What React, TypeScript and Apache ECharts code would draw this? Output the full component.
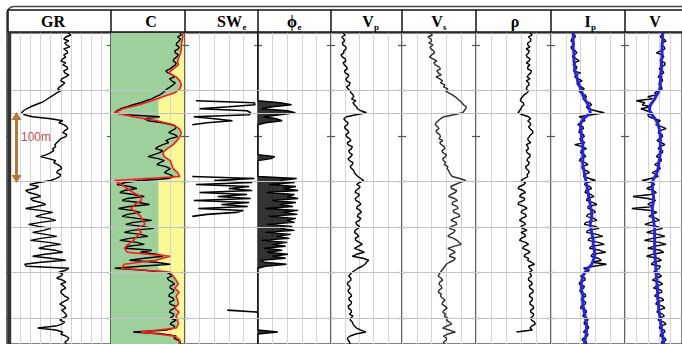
import React, { useEffect, useRef } from "react";
import * as echarts from "echarts";

// depth samples (m): coarse (6 m) and fine (3 m) sampling of the same window
const DEPTH = [1500,1506,1512,1518,1524,1530,1536,1542,1548,1554,1560,1566,1572,1578,1584,1590,1596,1602,1608,1614,1620,1626,1632,1638,1644,1650,1656,1662,1668,1674,1680,1686,1692,1698,1704,1710,1716,1722,1728,1734,1740,1746,1752,1758,1764,1770,1776,1782,1788,1794,1800,1806,1812,1818,1824,1830,1836,1842,1848,1854,1860,1866,1872,1878,1884,1890,1896,1902,1908,1914,1920,1926,1932,1938,1944,1950,1956,1962,1968];
const DEPTH_FINE = [
  1500,1503,1506,1509,1512,1515,1518,1521,1524,1527,
  1530,1533,1536,1539,1542,1545,1548,1551,1554,1557,
  1560,1563,1566,1569,1572,1575,1578,1581,1584,1587,
  1590,1593,1596,1599,1602,1605,1608,1611,1614,1617,
  1620,1623,1626,1629,1632,1635,1638,1641,1644,1647,
  1650,1653,1656,1659,1662,1665,1668,1671,1674,1677,
  1680,1683,1686,1689,1692,1695,1698,1701,1704,1707,
  1710,1713,1716,1719,1722,1725,1728,1731,1734,1737,
  1740,1743,1746,1749,1752,1755,1758,1761,1764,1767,
  1770,1773,1776,1779,1782,1785,1788,1791,1794,1797,
  1800,1803,1806,1809,1812,1815,1818,1821,1824,1827,
  1830,1833,1836,1839,1842,1845,1848,1851,1854,1857,
  1860,1863,1866,1869,1872,1875,1878,1881,1884,1887,
  1890,1893,1896,1899,1902,1905,1908,1911,1914,1917,
  1920,1923,1926,1929,1932,1935,1938,1941,1944,1947,
  1950,1953,1956,1959,1962,1965,1968];
const TICK_DEPTHS = [1518, 1586.5, 1655, 1723.5, 1792, 1860.5, 1929];
const GRID_DEPTHS = [1586.5, 1621, 1723.5, 1792, 1860.5, 1929];

// normalised log readings (0-100 % of each track) — fine sampling
const GR = [57,60,55,53,58,54,56,59,53,56, 57,53,55,52,50,55,52,56,57,53, 54,58,55,51,50,54,52,49,47,50, 46,43,40,37,34,30,25,20,16,13, 11,14,22,40,52,48,53,56,57,54, 52,56,55,50,48,46,44,45,42,43, 40,36,30,38,45,43,47,50,51,47, 46,50,49,45,40,28,19,28,24,15, 18,26,30,20,22,30,35,26,15,30, 42,32,25,38,45,30,18,28,40,33, 22,35,46,30,20,38,50,35,28,45, 52,34,22,40,55,30,14,16,58,55, 48,52,50,46,52,55,50,53,55,51, 50,52,54,58,56,52,49,53,55,51, 53,55,56,52,49,54,51,45,27,45, 52,50,55,58,57,54,56];
const C_BLACK = [93,95,90,94,92,89,88,92,91,86, 87,91,89,85,84,88,87,83,80,74, 77,83,86,79,82,87,84,80,76,73, 70,66,60,55,47,40,30,22,13,8, 5,20,66,45,50,70,82,88,87,82, 78,86,90,80,74,78,70,64,60,70, 66,58,50,64,72,66,62,74,80,76, 72,80,84,78,40,20,8,25,35,18, 12,30,45,22,15,38,52,25,10,28, 40,22,15,35,55,30,20,42,58,28, 18,40,50,25,12,35,45,22,20,55, 40,62,70,45,25,60,80,40,5,45, 75,80,82,76,78,83,86,80,80,85, 84,79,78,84,85,79,80,87,86,81, 79,85,84,80,88,83,80,86,85,75, 30,70,88,85,90,94,92];
const SWE = [null,null,null,null,null,null,null,null,null,null, null,null,null,null,null,null,null,null,null,null, null,null,null,null,null,null,null,null,null,null, null,null,null,null,15,95,96,60,20,85, 90,88,12,40,65,30,10,null,null,null, null,null,null,null,null,null,null,null,null,null, null,null,null,null,null,null,null,null,null,null, null,null,10,95,40,92,15,88,60,92, 20,85,45,90,12,88,50,86,18,80, 70,30,10,null,null,null,null,null,null,null, null,null,null,null,null,null,null,null,null,null, null,null,null,null,null,null,null,null,null,null, null,null,null,null,null,null,null,null,null,null, null,null,null,null,null,null,null,null,null,58, 100,null,null,null,null,null,null];
const PHIE = [0,0,0,0,0,0,0,0,0,0, 0,0,0,0,0,0,0,0,0,0, 0,0,0,0,0,0,0,0,0,0, 0,0,0,0,0,30,46,20,5,40, 51,30,8,25,33,10,0,0,0,0, 0,0,0,0,0,0,0,0,0,0, 0,0,23,18,0,0,0,0,0,0, 0,0,0,53,30,50,15,52,35,55, 12,50,40,55,20,52,30,48,10,55, 35,54,15,52,40,50,12,47,30,50, 10,45,25,43,5,40,20,38,8,33, 12,41,20,38,4,8,39,10,0,0, 0,0,0,0,0,0,0,0,0,0, 0,0,0,0,0,0,0,0,0,0, 0,0,0,0,0,0,0,0,0,0, 27,0,0,0,0,0,0];
const VP = [17,20,15,18,19,16,17,21,21,18, 18,14,16,20,21,17,19,22,23,19, 20,25,24,21,22,27,26,22,24,27, 28,31,32,29,35,31,33,36,37,42, 50,35,22,18,20,24,23,19,20,24, 25,21,22,26,28,23,24,30,29,25, 26,30,28,24,26,31,30,27,29,32, 33,35,38,42,46,40,36,41,39,35, 34,40,38,34,35,40,42,37,36,41, 43,38,37,42,40,35,36,40,38,34, 33,37,39,34,35,40,44,38,33,41, 47,36,30,45,53,50,48,44,38,34, 30,27,25,28,28,24,23,26,27,24, 25,28,29,25,26,29,28,24,25,28, 29,26,31,28,27,30,31,33,36,42, 49,35,27,23,24,26,27];
const VS = [38,41,35,39,40,36,42,38,39,43, 44,40,37,42,47,43,45,50,52,47, 49,53,46,51,55,52,58,56,62,59, 63,68,72,75,78,81,83,87,86,84, 82,70,57,52,49,46,45,48,50,46, 47,51,52,50,55,51,53,57,58,54, 55,60,59,55,56,59,57,62,61,63, 64,66,68,78,86,78,72,66,67,74, 72,66,63,71,75,68,68,74,76,69, 70,77,78,70,66,73,74,67,64,72, 70,65,62,70,74,77,80,70,62,68, 72,66,64,72,70,64,60,58,56,54, 52,50,49,53,55,51,50,53,54,50, 49,53,52,55,58,55,54,58,61,57, 55,59,57,62,60,64,67,60,55,64, 72,62,56,60,60,56,57];
const RHO = [72,75,70,73,73,69,69,72,67,71, 70,67,68,72,71,67,72,69,69,74, 73,70,68,72,67,70,71,68,67,70, 68,64,62,60,59,63,64,61,60,58, 56,62,70,73,69,72,73,70,72,75, 76,73,71,69,70,73,67,69,70,67, 68,72,72,69,68,71,70,66,67,70, 71,68,69,64,60,66,64,58,56,63, 66,60,58,65,64,57,56,64,68,62, 60,66,67,61,58,64,66,60,62,68, 60,65,66,60,58,66,70,64,62,69, 72,66,64,70,69,74,78,70,72,75, 71,73,74,70,70,74,75,71,72,76, 76,72,71,75,75,72,72,76,77,73, 73,77,76,73,74,78,79,74,72,75, 54,null,null,null,null,null,null];
const IP_BLACK = [29,32,33,28,27,31,31,27,28,33, 35,30,29,34,38,31,30,35,34,30, 40,34,32,37,42,35,36,41,45,38, 40,46,48,43,46,52,55,48,50,60, 72,55,38,44,46,40,36,43,44,38, 38,44,45,39,40,46,32,42,48,41, 40,45,47,40,38,46,50,42,42,48, 52,45,44,52,60,48,45,52,55,47, 46,54,58,49,48,56,62,50,50,58, 60,50,48,58,62,47,45,60,65,50, 48,62,70,52,50,64,72,55,52,66, 74,56,54,64,68,56,75,58,44,52, 48,44,40,46,46,39,38,45,44,39, 40,46,47,42,41,47,46,41,40,47, 48,44,43,49,50,45,45,50,51,46, 44,50,49,44,42,48,47];
const V_BLACK = [68,64,62,68,72,66,64,69,70,63, 55,66,68,63,62,70,70,64,60,66, 68,61,58,65,66,60,60,64,65,58, 52,55,40,48,20,35,30,45,28,38, 48,40,42,52,62,57,54,64,72,62, 58,65,66,60,56,64,70,62,58,66, 66,58,55,63,64,58,52,60,62,55, 48,56,58,45,30,48,52,45,38,50, 55,45,14,40,54,46,40,50,12,45, 56,48,42,55,60,45,35,55,66,50, 38,58,70,48,34,60,72,50,40,62, 68,48,38,58,64,50,46,62,60,54, 50,60,64,53,48,62,66,55,50,63, 65,55,52,64,68,56,54,66,70,58, 56,66,69,60,58,68,72,62,60,69, 70,63,62,70,72,64,66];

// coarse sampling: smooth / trend curves
const C_RED = [97,97,96,95,95,94,92,90,91,84,78,88,93,95,93,86,70,55,38,16,5,30,62,84,92,95,93,89,84,76,70,72,80,82,84,90,93,5,14,22,30,40,41,32,27,34,40,43,46,36,41,35,30,23,18,22,80,60,18,14,80,84,88,91,86,92,88,90,91,86,92,88,90,91,88,40,85,93,92];
// right edge of the green shading (left of it green, right of it yellow)
const C_GREEN_EDGE = [97,97,96,95,95,94,92,90,91,84,78,88,93,95,93,86,70,64,64,64,64,64,64,84,92,95,93,89,84,76,70,72,80,82,84,90,93,64,64,64,64,64,64,64,64,64,64,64,64,64,64,64,64,64,64,64,80,64,64,64,80,84,88,91,86,92,88,90,91,86,92,88,90,91,88,64,85,93,92];
const IP_BLUE = [30,30,30,30,30,31,31,31,32,32,33,35,36,38,40,42,44,47,50,52,53,47,42,40,40,41,41,42,43,43,43,43,43,43,44,45,46,47,48,49,50,51,52,53,54,55,55,54,53,54,55,56,57,57,58,59,59,57,55,50,46,43,42,41,41,42,43,43,43,44,45,46,47,48,48,48,47,46,45];
const V_BLUE = [66,66,66,65,65,65,65,64,64,64,63,63,62,62,61,58,54,50,45,43,45,50,55,58,60,61,62,62,62,62,62,61,60,59,58,56,53,49,48,48,49,50,50,49,48,48,49,50,51,52,52,52,52,52,52,52,53,53,54,54,55,55,56,56,57,57,57,58,59,59,60,61,62,63,64,65,66,67,68];

const TRACKS = [
  { left: 10.5, width: 100.5, interval: 10 },
  { left: 111, width: 74, interval: 20, bg: "#f9f996" },
  { left: 185, width: 73, interval: 20 },
  { left: 258, width: 73, interval: 20 },
  { left: 331, width: 71, interval: 20 },
  { left: 402, width: 74, interval: 20 },
  { left: 476, width: 75, interval: 20 },
  { left: 551, width: 74, interval: 20 },
  { left: 625, width: 73, interval: 20 },
];

const HEADERS = [
  { main: "GR", x: 53 },
  { main: "C", x: 151 },
  { main: "SW", x: 229.5, sub: "e", sx: 242.5 },
  { main: "ϕ", x: 292, sub: "e", sx: 297.5 },
  { main: "V", x: 368, sub: "p", sx: 374 },
  { main: "V", x: 437, sub: "s", sx: 443 },
  { main: "ρ", x: 515 },
  { main: "I", x: 587.5, sub: "p", sx: 591 },
  { main: "V", x: 655 },
];

function buildOption() {
  const grid: any[] = [];
  const xAxis: any[] = [];
  const yAxis: any[] = [];
  const series: any[] = [];
  TRACKS.forEach((t, k) => {
    grid.push({
      left: t.left, top: 33, width: t.width, height: 311,
      show: true, borderColor: "#5a5a5a", borderWidth: 1.5,
      backgroundColor: t.bg || "transparent",
    });
    xAxis.push({
      gridIndex: k, type: "value", min: 0, max: 100, interval: t.interval,
      axisLabel: { show: false }, axisTick: { show: false }, axisLine: { show: false },
      splitLine: { show: true, lineStyle: { color: "#d4d4d4", width: 1 } },
    });
    yAxis.push({ gridIndex: k, type: "category", data: DEPTH, inverse: true, boundaryGap: false, show: false });
    yAxis.push({ gridIndex: k, type: "category", data: DEPTH_FINE, inverse: true, boundaryGap: false, show: false });
    ["left", "right"].forEach((pos) => {
      yAxis.push({
        gridIndex: k, type: "value", min: 1500, max: 1968, inverse: true, position: pos,
        axisLine: { show: false }, axisLabel: { show: false }, splitLine: { show: false },
        axisTick: { show: true, inside: false, length: 4, customValues: TICK_DEPTHS, lineStyle: { color: "#555", width: 1.2 } },
      });
    });
    series.push({
      type: "line", xAxisIndex: k, yAxisIndex: 4 * k + 2, data: [[0, 1500]], showSymbol: false,
      lineStyle: { opacity: 0 }, silent: true, z: 1,
      markLine: {
        silent: true, symbol: "none", label: { show: false },
        lineStyle: { color: "#c2c2c2", width: 1, type: "solid" },
        data: GRID_DEPTHS.map((d) => ({ yAxis: d })),
      },
    });
  });
  const line = (k: number, fine: boolean, data: any[], color: string, width: number, extra: any = {}) => ({
    type: "line", xAxisIndex: k, yAxisIndex: 4 * k + (fine ? 1 : 0), data, showSymbol: false, connectNulls: false,
    lineStyle: { color, width }, z: 3, silent: true, ...extra,
  });
  series.push(line(0, true, GR, "#000", 1.4));
  series.push(line(1, false, C_GREEN_EDGE, "#9dd09b", 0, { lineStyle: { width: 0, opacity: 0 }, areaStyle: { color: "#9dd09b", opacity: 1, origin: "start" }, z: 2 }));
  series.push(line(1, true, C_BLACK, "#000", 1.4));
  series.push(line(1, false, C_RED, "#ff1a1a", 1.6, { z: 4 }));
  series.push(line(2, true, SWE, "#000", 1.6));
  series.push(line(3, true, PHIE, "#000", 1.4, { areaStyle: { color: "#000", opacity: 0.8, origin: "start" } }));
  series.push(line(4, true, VP, "#000", 1.4));
  series.push(line(5, true, VS, "#2e2e2e", 1.4));
  series.push(line(6, true, RHO, "#000", 1.4));
  series.push(line(7, true, IP_BLACK, "#000", 1.4));
  series.push(line(7, false, IP_BLUE, "#2424f0", 3, { smooth: 0.4, z: 4 }));
  series.push(line(8, true, V_BLACK, "#000", 1.4));
  series.push(line(8, false, V_BLUE, "#2424f0", 3, { smooth: 0.4, z: 4 }));

  const graphic: any[] = [
    { type: "rect", z: 100, shape: { x: 7, y: 6.5, width: 720, height: 400, r: 7 }, style: { fill: "none", stroke: "#444", lineWidth: 1.5 } },
    { type: "rect", z: 100, shape: { x: 8, y: 10, width: 720, height: 22 }, style: { fill: "#fff", stroke: "#111", lineWidth: 1.5 } },
    { type: "rect", z: 100, shape: { x: 7.5, y: 32, width: 3.5, height: 320 }, style: { fill: "#333" } },
  ];
  TRACKS.slice(1).forEach((t) => {
    graphic.push({ type: "line", z: 101, shape: { x1: t.left, y1: 10, x2: t.left, y2: 32 }, style: { stroke: "#111", lineWidth: 1.5 } });
  });
  HEADERS.forEach((h) => {
    graphic.push({ type: "text", z: 102, x: h.x, y: 21, style: { text: h.main, font: "bold 16px 'Liberation Serif', 'DejaVu Serif', serif", fill: "#000", align: "center", verticalAlign: "middle" } });
    if (h.sub) {
      graphic.push({ type: "text", z: 102, x: h.sx, y: 26.5, style: { text: h.sub, font: "bold 9px 'Liberation Serif', serif", fill: "#000", align: "left", verticalAlign: "middle" } });
    }
  });
  // 100 m scale arrow
  graphic.push({ type: "line", z: 103, shape: { x1: 16.5, y1: 119, x2: 16.5, y2: 176 }, style: { stroke: "#b8762f", lineWidth: 3 } });
  graphic.push({ type: "polygon", z: 103, shape: { points: [[16.5, 112], [11.5, 120], [21.5, 120]] }, style: { fill: "#b8762f" } });
  graphic.push({ type: "polygon", z: 103, shape: { points: [[16.5, 183], [11.5, 175], [21.5, 175]] }, style: { fill: "#b8762f" } });
  graphic.push({ type: "text", z: 103, x: 21, y: 136.5, style: { text: "100m", font: "12px 'Liberation Sans', Arial, sans-serif", fill: "#c0504d", align: "left", verticalAlign: "middle" } });

  return { animation: false, backgroundColor: "#fff", grid, xAxis, yAxis, series, graphic };
}

export default function App() {
  const ref = useRef<HTMLDivElement>(null);
  useEffect(() => {
    const chart = echarts.init(ref.current!, undefined, { renderer: "svg" });
    chart.setOption(buildOption());
    return () => chart.dispose();
  }, []);
  return <div ref={ref} style={{ position: "fixed", left: 0, top: 0, width: 682, height: 344, background: "#fff" }} />;
}
